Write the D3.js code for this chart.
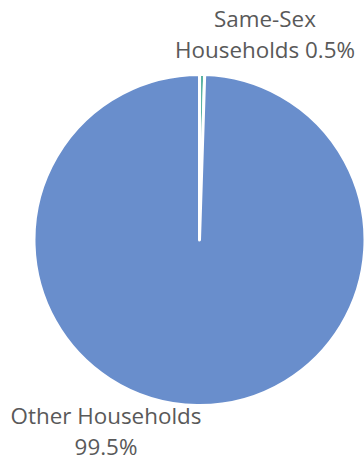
<!DOCTYPE html>
<html>
<head>
<meta charset="utf-8">
<script src="https://cdn.jsdelivr.net/npm/d3@7"></script>
<style>
  html, body { margin: 0; padding: 0; background: #fff; }
  svg { display: block; }
  text { font-family: "Open Sans", "Noto Sans", sans-serif; fill: #595959; }
</style>
</head>
<body>
<svg id="chart" width="364" height="461"></svg>
<script>
// Household composition shares (percent)
const categories = ["Same-Sex Households", "Other Households"];
const values = [0.5, 99.5];
const labelLines = [["Same-Sex", "Households 0.5%"], ["Other Households", "99.5%"]];
const colors = ["#5BB3A3", "#698ECC"];

const width = 364, height = 461;
const cx = 199.5, cy = 240, radius = 165.5;

const svg = d3.select("#chart");
const g = svg.append("g").attr("transform", `translate(${cx},${cy})`);

const pie = d3.pie().sort(null).value(d => d.value);
const arc = d3.arc().innerRadius(0).outerRadius(radius);

const data = categories.map((c, i) => ({ name: c, value: values[i], color: colors[i], lines: labelLines[i] }));
const arcs = pie(data);

g.selectAll("path.slice")
  .data(arcs)
  .join("path")
  .attr("class", "slice")
  .attr("d", arc)
  .attr("fill", d => d.data.color)
  .attr("stroke", "#fff")
  .attr("stroke-width", 3)
  .attr("stroke-linejoin", "round");

// Data labels placed outside the pie
const fontSize = 22.4, lineGap = 31;
const labelAnchors = [
  { x: 265, y: 27 },
  { x: 106, y: 424 }
];

arcs.forEach((a, i) => {
  const t = svg.append("text")
    .attr("text-anchor", "middle")
    .attr("font-size", fontSize)
    .attr("x", labelAnchors[i].x)
    .attr("y", labelAnchors[i].y);
  a.data.lines.forEach((line, j) => {
    t.append("tspan")
      .attr("x", labelAnchors[i].x)
      .attr("dy", j === 0 ? 0 : lineGap)
      .text(line);
  });
});
</script>
</body>
</html>
